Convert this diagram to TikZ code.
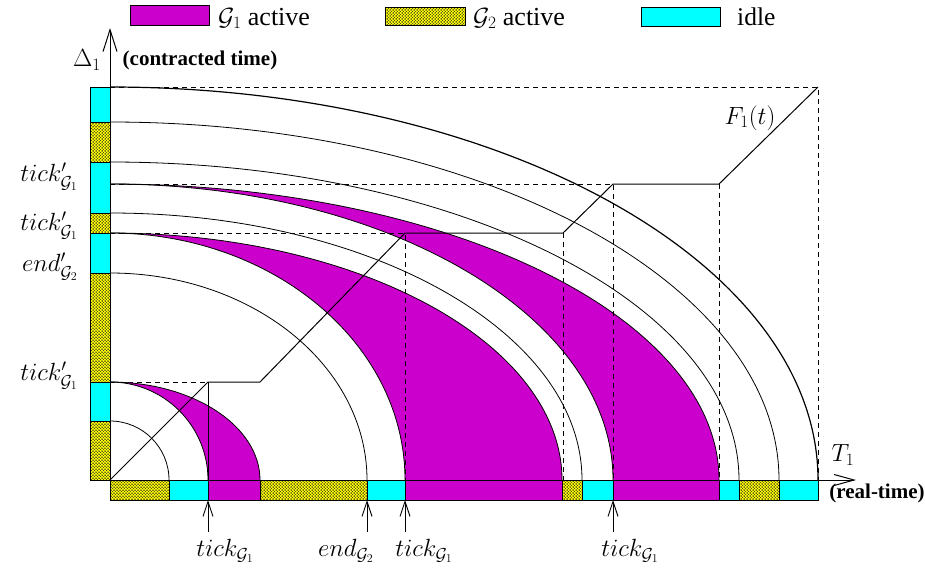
\documentclass[tikz,border=0pt]{standalone}
\usepackage{fontspec}
\setmainfont{Liberation Serif}
\newfontfamily\tmsfont{Liberation Serif}
\DeclareMathSizes{26}{26}{18.5}{13}
\usetikzlibrary{patterns,arrows.meta}
\definecolor{gmag}{RGB}{204,0,204}
\definecolor{gcyan}{RGB}{0,255,255}
\definecolor{gyel}{RGB}{255,255,0}
\pgfdeclarepatternformonly{ydots}{\pgfqpoint{-1pt}{-1pt}}{\pgfqpoint{4pt}{4pt}}{\pgfqpoint{3pt}{3pt}}{%
 \pgfpathcircle{\pgfqpoint{0pt}{0pt}}{0.5pt}%
 \pgfpathcircle{\pgfqpoint{1.5pt}{1.5pt}}{0.5pt}%
 \pgfpathcircle{\pgfqpoint{3pt}{0pt}}{0.5pt}%
 \pgfpathcircle{\pgfqpoint{0pt}{3pt}}{0.5pt}%
 \pgfpathcircle{\pgfqpoint{3pt}{3pt}}{0.5pt}%
 \pgfusepath{fill}}
\tikzset{
 magbox/.style={fill=gmag,draw=black,line width=0.8pt},
 cyanbox/.style={fill=gcyan,draw=black,line width=0.8pt},
 yelbox/.style={preaction={fill=gyel},pattern=ydots,pattern color=black!85,draw=black,line width=0.8pt},
 curve/.style={line width=0.8pt},
 dashline/.style={line width=0.8pt,dash pattern=on 5pt off 4pt},
 fline/.style={line width=1pt},
 axis/.style={line width=1pt},
 lbl/.style={font=\fontsize{26}{30}\selectfont, inner sep=0pt},
 tlbl/.style={font=\tmsfont\fontsize{25.5}{30}\selectfont, inner sep=0pt},
 blbl/.style={font=\tmsfont\fontsize{21}{24}\selectfont\bfseries, inner sep=0pt},
 uparrow/.style={line width=0.9pt,-{Straight Barb[length=15pt,width=10pt]}},
}
\newcommand\qarc[3][]{\draw[curve,#1] (110,{480-#2}) arc[start angle=-90,end angle=0,x radius=#3,y radius=#2];}
\newcommand\magband[3]{\fill[gmag] (110,{480-#1}) arc[start angle=-90,end angle=0,x radius=#3,y radius=#1] -- ({110+#2},480) arc[start angle=0,end angle=-90,x radius=#2,y radius=#1] -- cycle;}
\newcommand\hseg[3]{\draw[#1] (#2,480) rectangle (#3,500);}
\newcommand\vseg[3]{\draw[#1] (90,#2) rectangle (110,#3);}
\begin{document}
\begin{tikzpicture}[x=1pt,y=-1pt]
\useasboundingbox (0,0) rectangle (925,571);
% magenta bands
\magband{98}{98}{150}
\magband{247}{295}{452}
\magband{296}{503}{609}
% arcs
\qarc{59}{59}
\qarc{98}{98}
\qarc{98}{150}
\qarc{207}{257}
\qarc{247}{295}
\qarc{247}{452}
\qarc{267}{472}
\qarc{296}{503}
\qarc{296}{609}
\qarc{318}{629}
\qarc{358}{669}
\qarc[line width=1.2pt]{393}{708}
% coordinates of F1
\coordinate (O) at (110,480);
\coordinate (p1) at (208,382);
\coordinate (p2) at (260,382);
\coordinate (p3) at (405,233);
\coordinate (p4) at (563,233);
\coordinate (p5) at (613,184);
\coordinate (p6) at (719,184);
\coordinate (p7) at (818,87);
% dashed guides
\draw[dashline] (110,87) -- (p7) -- (818,480);
\draw[dashline] (110,184) -- (p5) -- (613,480);
\draw[dashline] (p6) -- (719,480);
\draw[dashline] (110,233) -- (p3) -- (405,480);
\draw[dashline] (p4) -- (563,480);
\draw[dashline] (110,382) -- (p1);
\draw[fline] (p1) -- (208,480);
% F1 curve
\draw[fline] (O) -- (p1) -- (p2) -- (p3) -- (p4) -- (p5) -- (p6) -- (p7);
% left bar
\vseg{cyanbox}{87}{122}
\vseg{yelbox}{122}{162}
\vseg{cyanbox}{162}{213}
\vseg{yelbox}{213}{233}
\vseg{cyanbox}{233}{273}
\vseg{yelbox}{273}{382}
\vseg{cyanbox}{382}{421}
\vseg{yelbox}{421}{480}
% bottom bar
\hseg{yelbox}{110}{169}
\hseg{cyanbox}{169}{208}
\hseg{magbox}{208}{260}
\hseg{yelbox}{260}{367}
\hseg{cyanbox}{367}{405}
\hseg{magbox}{405}{562}
\hseg{yelbox}{562}{582}
\hseg{cyanbox}{582}{613}
\hseg{magbox}{613}{719}
\hseg{cyanbox}{719}{739}
\hseg{yelbox}{739}{779}
\hseg{cyanbox}{779}{818}
% axes
\coordinate (ytip) at (110,28);
\coordinate (xtip) at (856,480);
\draw[axis,-{Straight Barb[length=22pt,width=14pt]}] (O) -- (ytip);
\draw[axis,-{Straight Barb[length=20pt,width=11pt]}] (O) -- (xtip);
% bottom arrows
\foreach \x/\n in {208/a, 367/b, 405/c, 613/d}{
  \coordinate (\n s) at (\x,532);
  \coordinate (\n e) at (\x,500);
  \draw[uparrow] (\n s) -- (\n e);
}
% labels
\node[lbl] (d1) at (87,60) {$\Delta_1$};
\node[blbl] (ct) at (200,60) {(contracted time)};
\node[lbl] (t1) at (843,455) {$T_1$};
\node[blbl] (rt) at (877,493) {(real-time)};
\node[lbl] (f1) at (750,118) {$F_1(t)$};
\node[lbl,anchor=east] (l1) at (78,177) {$tick'_{\mathcal{G}_1}$};
\node[lbl,anchor=east] (l2) at (78,226) {$tick'_{\mathcal{G}_1}$};
\node[lbl,anchor=east] (l3) at (78,267) {$end'_{\mathcal{G}_2}$};
\node[lbl,anchor=east] (l4) at (78,376) {$tick'_{\mathcal{G}_1}$};
\node[lbl] (b1) at (225,551) {$tick_{\mathcal{G}_1}$};
\node[lbl] (b2) at (346,551) {$end_{\mathcal{G}_2}$};
\node[lbl] (b3) at (424,551) {$tick_{\mathcal{G}_1}$};
\node[lbl] (b4) at (630,551) {$tick_{\mathcal{G}_1}$};
% legend
\draw[magbox] (130,5) rectangle (209,25);
\node[tlbl,anchor=base west] (lg1) at (218,25) {\fontsize{26}{30}\selectfont$\mathcal{G}_1$ active};
\draw[yelbox] (385,7) rectangle (465,25);
\node[tlbl,anchor=base west] (lg2) at (473,25) {\fontsize{26}{30}\selectfont$\mathcal{G}_2$ active};
\draw[cyanbox] (641,7) rectangle (720,26);
\node[tlbl,anchor=base west] (lg3) at (737,25) {idle};
\end{tikzpicture}
\end{document}
